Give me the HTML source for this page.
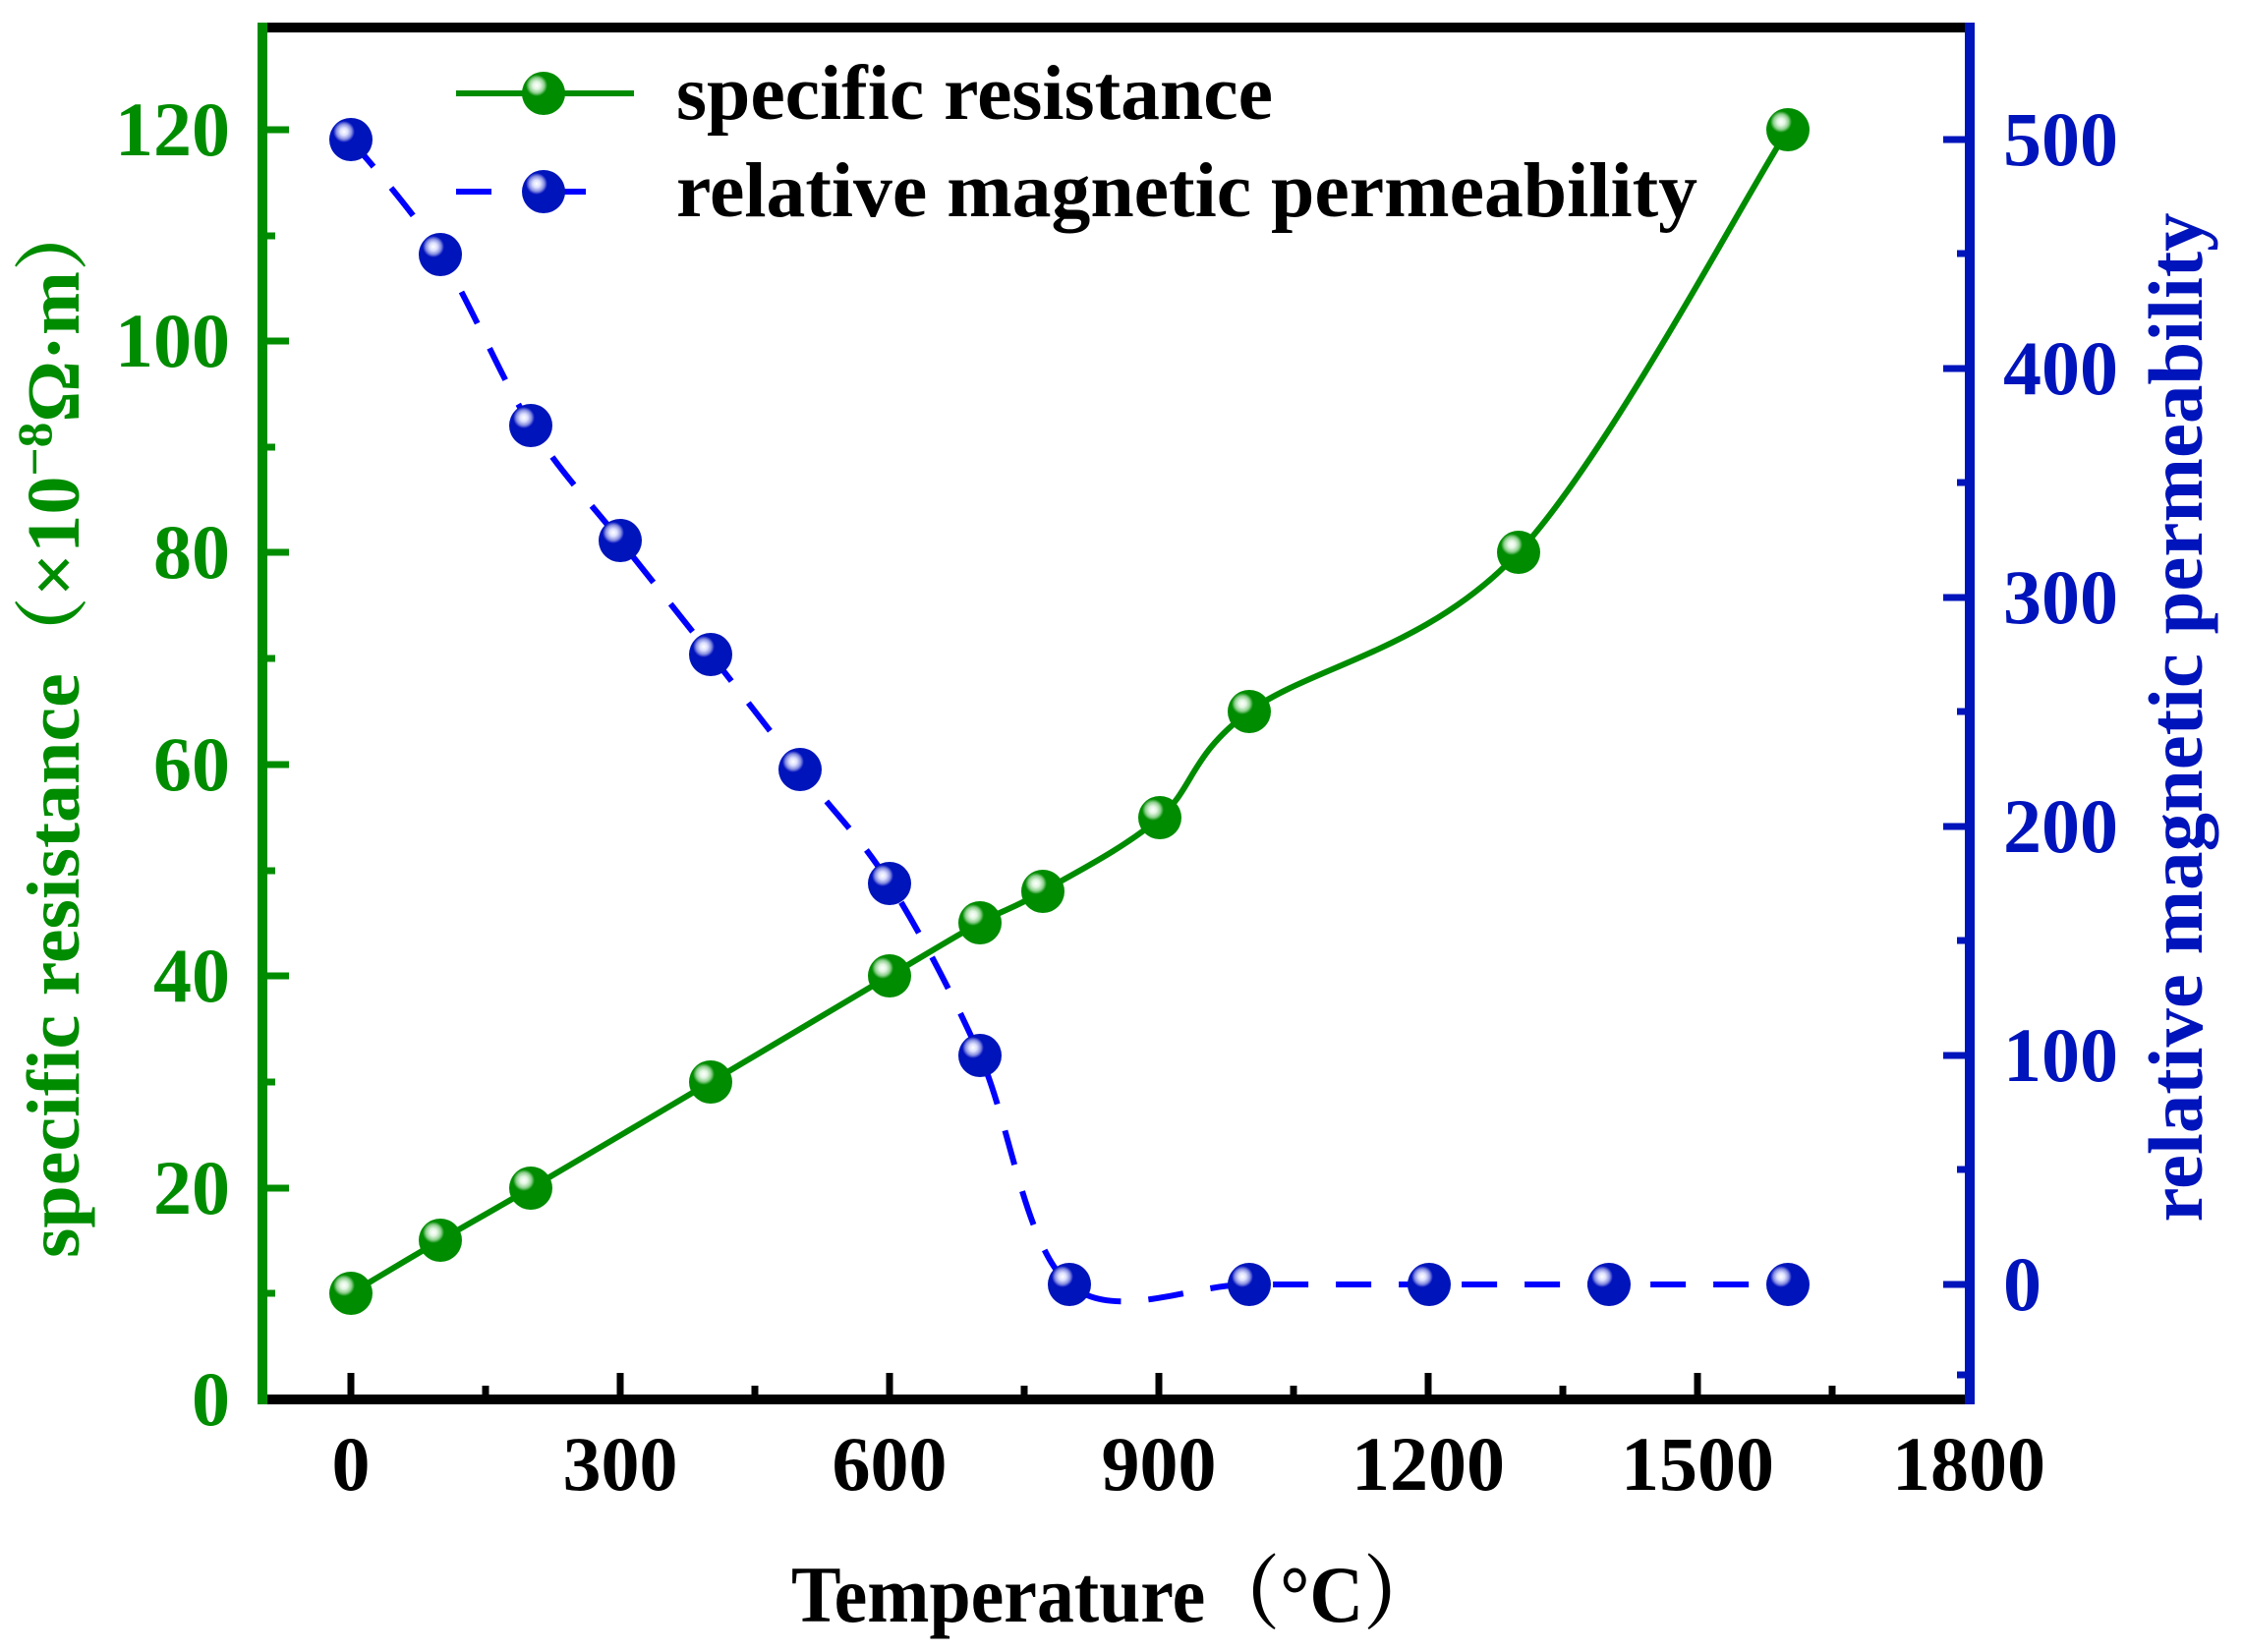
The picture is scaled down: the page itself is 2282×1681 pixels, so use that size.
<!DOCTYPE html>
<html><head><meta charset="utf-8"><style>
html,body{margin:0;padding:0;background:#fff}
svg{display:block}
text{font-family:"Liberation Serif","Noto Serif CJK SC",serif;font-weight:bold}
</style></head><body>
<svg width="2282" height="1681" viewBox="0 0 2282 1681" xmlns="http://www.w3.org/2000/svg">
<defs>
<radialGradient id="hg" cx="0.5" cy="0.5" r="0.5"><stop offset="0" stop-color="#fff"/><stop offset="0.35" stop-color="#e0f5e0"/><stop offset="0.7" stop-color="#8fd08f"/><stop offset="1" stop-color="#008c00"/></radialGradient>
<radialGradient id="hb" cx="0.5" cy="0.5" r="0.5"><stop offset="0" stop-color="#fff"/><stop offset="0.35" stop-color="#dde0ff"/><stop offset="0.7" stop-color="#8890e0"/><stop offset="1" stop-color="#0010c0"/></radialGradient>
<g id="mg"><circle r="22" fill="#008c00"/><circle cx="-7" cy="-8" r="11" fill="url(#hg)"/></g>
<g id="mb"><circle r="22" fill="#0014bb"/><circle cx="-7" cy="-8" r="11" fill="url(#hb)"/></g>
</defs>

<line x1="264" y1="28" x2="2008" y2="28" stroke="#000" stroke-width="10"/>
<line x1="264" y1="1424" x2="2004" y2="1424" stroke="#000" stroke-width="10"/>
<line x1="267" y1="23" x2="267" y2="1429" stroke="#008c00" stroke-width="10"/>
<line x1="2004" y1="23" x2="2004" y2="1429" stroke="#0014bb" stroke-width="10"/>

<g stroke="#000" stroke-width="7">
<line x1="357" y1="1424" x2="357" y2="1397"/><line x1="631" y1="1424" x2="631" y2="1397"/><line x1="905" y1="1424" x2="905" y2="1397"/><line x1="1179" y1="1424" x2="1179" y2="1397"/><line x1="1453" y1="1424" x2="1453" y2="1397"/><line x1="1727" y1="1424" x2="1727" y2="1397"/>
<line x1="494" y1="1424" x2="494" y2="1410"/><line x1="768" y1="1424" x2="768" y2="1410"/><line x1="1042" y1="1424" x2="1042" y2="1410"/><line x1="1316" y1="1424" x2="1316" y2="1410"/><line x1="1590" y1="1424" x2="1590" y2="1410"/><line x1="1864" y1="1424" x2="1864" y2="1410"/>
</g>
<g stroke="#008c00" stroke-width="7">
<line x1="267" y1="1209" x2="294" y2="1209"/><line x1="267" y1="993" x2="294" y2="993"/><line x1="267" y1="778" x2="294" y2="778"/><line x1="267" y1="562" x2="294" y2="562"/><line x1="267" y1="347" x2="294" y2="347"/><line x1="267" y1="132" x2="294" y2="132"/>
<line x1="267" y1="1316" x2="280" y2="1316"/><line x1="267" y1="1101" x2="280" y2="1101"/><line x1="267" y1="886" x2="280" y2="886"/><line x1="267" y1="670" x2="280" y2="670"/><line x1="267" y1="455" x2="280" y2="455"/><line x1="267" y1="240" x2="280" y2="240"/>
</g>
<g stroke="#0014bb" stroke-width="7">
<line x1="2004" y1="1307" x2="1977" y2="1307"/><line x1="2004" y1="1074" x2="1977" y2="1074"/><line x1="2004" y1="841" x2="1977" y2="841"/><line x1="2004" y1="608" x2="1977" y2="608"/><line x1="2004" y1="375" x2="1977" y2="375"/><line x1="2004" y1="142" x2="1977" y2="142"/>
<line x1="2004" y1="1190" x2="1991" y2="1190"/><line x1="2004" y1="957" x2="1991" y2="957"/><line x1="2004" y1="724" x2="1991" y2="724"/><line x1="2004" y1="491" x2="1991" y2="491"/><line x1="2004" y1="258" x2="1991" y2="258"/><line x1="2004" y1="1399" x2="1991" y2="1399"/>
</g>

<g font-size="78" fill="#000" text-anchor="middle">
<text x="357" y="1516">0</text><text x="631" y="1516">300</text><text x="905" y="1516">600</text><text x="1179" y="1516">900</text><text x="1453" y="1516">1200</text><text x="1727" y="1516">1500</text><text x="2003" y="1516">1800</text>
</g>
<g font-size="78" fill="#008c00" text-anchor="end">
<text x="234" y="1450">0</text><text x="234" y="1235">20</text><text x="234" y="1019">40</text><text x="234" y="804">60</text><text x="234" y="588">80</text><text x="234" y="373">100</text><text x="234" y="158">120</text>
</g>
<g font-size="78" fill="#0014bb" text-anchor="start">
<text x="2038" y="1333">0</text><text x="2038" y="1100">100</text><text x="2038" y="867">200</text><text x="2038" y="634">300</text><text x="2038" y="401">400</text><text x="2038" y="168">500</text>
</g>

<text x="1134" y="1650" font-size="82" text-anchor="middle" fill="#000" textLength="658" lengthAdjust="spacingAndGlyphs">Temperature（°C）</text>
<text transform="translate(80,739) rotate(-90)" font-size="76" text-anchor="middle" fill="#008c00" textLength="1082" lengthAdjust="spacingAndGlyphs">specific resistance（×10<tspan font-size="50" dy="-28">−8</tspan><tspan dy="28">Ω·m）</tspan></text>
<text transform="translate(2240,730) rotate(-90)" font-size="78" text-anchor="middle" fill="#0014bb" textLength="1027" lengthAdjust="spacingAndGlyphs">relative magnetic permeability</text>

<path d="M357,1316 C372,1307 417.5,1279.8 448,1262 C478.5,1244.2 494.2,1235.8 540,1209 C585.8,1182.2 662.2,1137 723,1101 C783.8,1065 859.3,1020 905,993 C950.7,966 971,953.3 997,939 C1023,924.7 1030.5,924.8 1061,907 C1091.5,889.2 1145,862.5 1180,832 C1215,801.5 1210.2,769 1271,724 C1331.8,679 1453.7,660.7 1545,562 C1636.3,463.3 1773.3,203.7 1819,132" fill="none" stroke="#008c00" stroke-width="6"/>
<path d="M357,142 C372,161.5 417.5,210.5 448,259 C478.5,307.5 509.5,384.5 540,433 C570.5,481.5 600.5,511.2 631,550 C661.5,588.8 692.5,627.2 723,666 C753.5,704.8 783.7,744.2 814,783 C844.3,821.8 874.5,850.5 905,899 C935.5,947.5 966.5,1006 997,1074 C1027.5,1142 1042.3,1268.2 1088,1307 C1133.7,1345.8 1210,1307 1271,1307 L1819,1307" fill="none" stroke="#0000ff" stroke-width="6" stroke-dasharray="36 28"/>

<use href="#mg" x="357" y="1316"/><use href="#mg" x="448" y="1262"/><use href="#mg" x="540" y="1209"/><use href="#mg" x="723" y="1101"/><use href="#mg" x="905" y="993"/><use href="#mg" x="997" y="939"/><use href="#mg" x="1061" y="907"/><use href="#mg" x="1180" y="832"/><use href="#mg" x="1271" y="724"/><use href="#mg" x="1545" y="562"/><use href="#mg" x="1819" y="132"/>
<use href="#mb" x="357" y="142"/><use href="#mb" x="448" y="259"/><use href="#mb" x="540" y="433"/><use href="#mb" x="631" y="550"/><use href="#mb" x="723" y="666"/><use href="#mb" x="814" y="783"/><use href="#mb" x="905" y="899"/><use href="#mb" x="997" y="1074"/><use href="#mb" x="1088" y="1307"/><use href="#mb" x="1271" y="1307"/><use href="#mb" x="1454" y="1307"/><use href="#mb" x="1637" y="1307"/><use href="#mb" x="1819" y="1307"/>

<line x1="464" y1="95" x2="645" y2="95" stroke="#008c00" stroke-width="6"/>
<use href="#mg" x="553" y="95"/>
<line x1="464" y1="195" x2="645" y2="195" stroke="#0000ff" stroke-width="6" stroke-dasharray="36 60"/>
<use href="#mb" x="553" y="195"/>
<text x="688" y="121" font-size="79" fill="#000" textLength="607" lengthAdjust="spacingAndGlyphs">specific resistance</text>
<text x="688" y="220" font-size="79" fill="#000" textLength="1039" lengthAdjust="spacingAndGlyphs">relative magnetic permeability</text>
</svg>
</body></html>
